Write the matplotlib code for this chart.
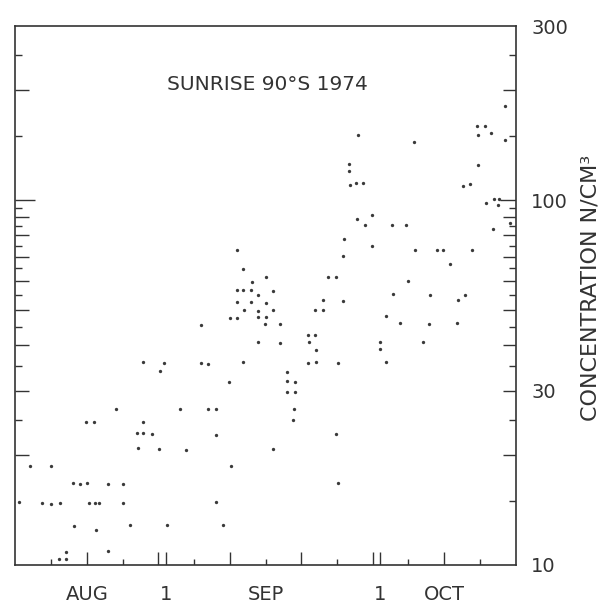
import matplotlib
matplotlib.use("Agg")
import matplotlib.pyplot as plt
from matplotlib.transforms import blended_transform_factory
from matplotlib.ticker import NullLocator

# x: days counted from 31 August (Sep 1 = 1, Oct 1 = 31, Aug 21 = -10)
days = [11.0, 11.9, 13.1, 15.0, 11.0, 11.9, 12.9, 14.0, 48.6, 44.7,
        45.7, 44.8, 46.6, 48.6, 27.9, 35.8, 26.7, 26.7, 26.8, 27.7,
        28.7, 44.8, 42.7, 43.7, 45.9, 47.0, 47.7, 47.6, 49.3, 46.9,
        27.8, 28.9, 29.9, 32.7, 34.7, 26.0, 25.9, 29.9, 36.0, 39.0,
        39.9, 43.9, 40.9, 23.8, 24.9, 34.9, 16.1, 32.8, 38.0, 42.0,
        42.9, 23.0, 25.9, 11.0, 12.9, 15.1, 12.0, 13.9, 10.0, 11.0,
        13.9, 15.0, 14.9, 6.0, 13.9, 6.0, 6.9, 11.9, -2.1, 0.8,
        0.2, 9.9, -6.0, 3.0, 6.9, 8.0, -10.2, -9.1, -2.2, -3.0,
        -2.1, -0.9, 8.0, -2.8, 0.1, 3.9, 10.1, -18.0, -15.0, -12.0,
        -11.0, -10.0, -7.1, -5.0, -19.5, -16.3, -15.0, -13.8, -9.8, -8.9,
        -8.3, -5.0, 8.1, -11.9, -8.7, -4.0, 1.2, 9.1, -12.9, -13.9,
        -12.9, -7.0, 16.1, 17.0, 17.0, 22.0, 23.0, 20.9, 22.0, 21.1,
        22.1, 21.0, 22.1, 25.1, 18.0, 18.0, 19.1, 18.0, 19.1, 19.0,
        18.9, 24.9, 16.0, 25.2, 31.9, 33.9, 37.9, 41.9, 31.0, 31.0,
        31.9, 37.0]
conc = [72.9, 64.9, 59.8, 61.5, 56.7, 56.7, 56.6, 54.8, 181.5, 159.5,
        159.4, 150.7, 152.4, 146.2, 150.9, 144.6, 125.8, 119.8, 110.0, 111.3,
        111.2, 124.5, 109.0, 111.0, 98.3, 100.7, 100.6, 96.9, 86.8, 83.1,
        88.9, 85.7, 90.8, 85.6, 85.6, 78.0, 70.4, 74.8, 72.9, 73.0,
        72.9, 73.2, 66.7, 61.7, 61.7, 60.0, 56.5, 55.2, 55.0, 53.2,
        55.0, 53.1, 52.9, 52.6, 52.6, 52.4, 49.9, 49.8, 47.6, 47.6,
        47.8, 47.7, 45.8, 45.5, 40.9, 35.8, 35.6, 35.9, 35.9, 35.8,
        34.1, 31.8, 26.8, 26.7, 26.8, 26.7, 24.7, 24.7, 24.7, 23.0,
        23.0, 22.9, 22.7, 20.9, 20.8, 20.7, 18.7, 18.7, 18.7, 16.8,
        16.7, 16.8, 16.7, 16.7, 14.9, 14.8, 14.7, 14.8, 14.8, 14.8,
        14.8, 14.8, 14.9, 12.8, 12.5, 12.9, 12.9, 12.9, 10.85, 10.36,
        10.37, 10.9, 49.9, 45.8, 40.7, 50.0, 50.0, 42.7, 42.7, 40.9,
        38.8, 35.8, 35.9, 35.8, 33.7, 31.9, 31.8, 29.7, 29.7, 26.8,
        25.0, 22.8, 20.8, 16.8, 48.0, 46.0, 45.9, 46.0, 40.8, 39.0,
        36.0, 40.8]

ytick_values = [10, 30, 100, 300]
ytick_labels = ["10", "30", "100", "300"]
month_labels = ["AUG", "1", "SEP", "1", "OCT"]
month_label_pos = [-10, 1, 15, 31, 40]
xtick_long = [-10, 0, 1, 10, 20, 30, 31, 40]
xtick_short = [-15, -5, 5, 15, 25, 35, 45]
ytick_major = [100]
ytick_long = [20, 30, 40, 50, 60, 70, 80, 90, 200]
ytick_short_left = [25, 35, 45, 55, 65, 75, 85, 95, 150, 250]
ytick_short_right = [15] + ytick_short_left

INK = "#333333"
W, H = 613, 605
fig = plt.figure(figsize=(W / 100, H / 100), dpi=100)
ax = fig.add_axes([15 / W, 1 - 565 / H, 501 / W, 539 / H])
ax.set_yscale("log")
ax.set_xlim(-20.1, 50.1)
ax.set_ylim(10, 300)

ax.plot(days, conc, "o", ms=2.4, color="#3a3a3a", mec="none", clip_on=False)

for s in ax.spines.values():
    s.set_color(INK)
    s.set_linewidth(1.2)

# axis ticks / labels
ax.set_xticks([])
ax.yaxis.tick_right()
ax.set_yticks(ytick_values, ytick_labels)
ax.yaxis.set_minor_locator(NullLocator())
ax.tick_params(axis="y", which="both", length=0, pad=11, labelsize=14,
               labelcolor=INK)

ytr = blended_transform_factory(ax.transAxes, ax.transData)
xtr = blended_transform_factory(ax.transData, ax.transAxes)
lw = 1.0
# left ticks
ax.hlines(ytick_major, 0, 20 / 501, transform=ytr, color=INK, lw=lw)
ax.hlines(ytick_long, 0, 14 / 501, transform=ytr, color=INK, lw=lw)
ax.hlines(ytick_short_left, 0, 7 / 501, transform=ytr, color=INK, lw=lw)
# right ticks
ax.hlines(ytick_major, 1 - 16 / 501, 1, transform=ytr, color=INK, lw=lw)
ax.hlines(ytick_long, 1 - 13 / 501, 1, transform=ytr, color=INK, lw=lw)
ax.hlines(ytick_short_right, 1 - 7 / 501, 1, transform=ytr, color=INK, lw=lw)
# bottom ticks
ax.vlines(xtick_long, 0, 13 / 539, transform=xtr, color=INK, lw=lw)
ax.vlines(xtick_short, 0, 6 / 539, transform=xtr, color=INK, lw=lw)

for pos, lab in zip(month_label_pos, month_labels):
    ax.text(pos, -0.055, lab, transform=xtr, ha="center", va="center",
            fontsize=14, color=INK)

fig.text(267 / W, 1 - 84 / H, "SUNRISE 90°S 1974", ha="center", va="center",
         fontsize=14.5, color=INK)
fig.text(591 / W, 1 - 288 / H, "CONCENTRATION N/CM³", rotation=90,
         ha="center", va="center", fontsize=16, color=INK)

fig.savefig("out.png", dpi=100, facecolor="white")
